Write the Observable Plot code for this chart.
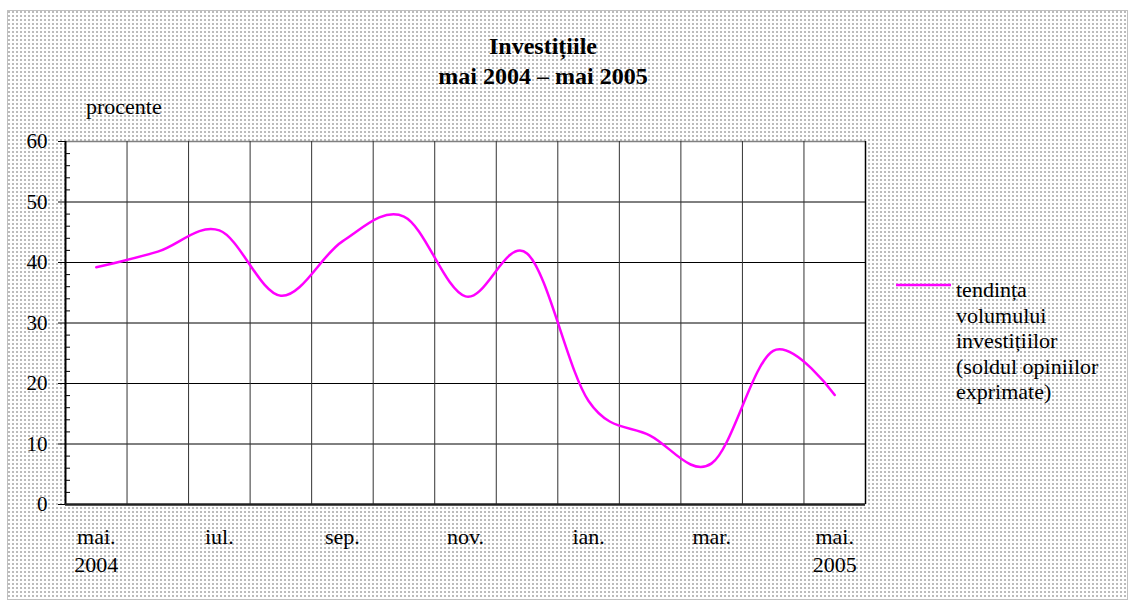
<!DOCTYPE html>
<html><head><meta charset="utf-8">
<script src="https://cdn.jsdelivr.net/npm/d3@7"></script>
<script src="https://cdn.jsdelivr.net/npm/@observablehq/plot@0.6"></script>
<style>
body{margin:0;background:#fff;}
#wrap{position:relative;width:1130px;height:600px;overflow:hidden;font-family:"Liberation Serif","Times New Roman",serif;color:#000;}
#bg{position:absolute;left:7px;top:10px;width:1119px;height:588px;border:1px solid #c0c0c0;background-color:#fff;
 background-image:url("data:image/svg+xml;utf8,<svg xmlns='http://www.w3.org/2000/svg' width='4' height='4'><rect x='0' y='0' width='2' height='2' fill='%23bcbcbc'/></svg>");}
#chart{position:absolute;left:0;top:0;}
.t{position:absolute;white-space:nowrap;}
#title{left:343px;width:400px;top:31px;text-align:center;font-weight:bold;font-size:24px;line-height:30px;}
#unit{left:86px;top:95px;font-size:22px;line-height:24px;}
#legtext{left:956px;top:277px;font-size:22px;line-height:25.5px;}
#legline{position:absolute;left:896px;top:280px;}
</style>
</head><body>
<div id="wrap">
  <div id="bg"></div>
  <div id="chart"></div>
  <div class="t" id="title">Investițiile<br>mai 2004 – mai 2005</div>
  <div class="t" id="unit">procente</div>
  <svg id="legline" width="56" height="10"><line x1="0" y1="5" x2="55" y2="5" stroke="#ff00ff" stroke-width="2.5"/></svg>
  <div class="t" id="legtext">tendința<br>volumului<br>investițiilor<br>(soldul opiniilor<br>exprimate)</div>
</div>
<script>
const months = ["mai.","iun.","iul.","aug.","sep.","oct.","nov.","dec.","ian.","feb.","mar.","apr.","mai."];
const years = ["2004","","","","","","","","","","","","2005"];
const values = [39.2, 41.8, 45.3, 34.5, 43.5, 47.6, 34.4, 41.5, 17.1, 11.4, 6.8, 25.4, 18.1];
const yTicks = [0,10,20,30,40,50,60];
const yMinor = [2,4,6,8,12,14,16,18,22,24,26,28,32,34,36,38,42,44,46,48,52,54,56,58];
const labelEvery = 2;

const idx = months.map((_, i) => i);
const xTicks = idx.filter(i => i % labelEvery === 0);
const gridX = idx.slice(1).map(i => i - 0.5);
const data = values.map((v, i) => ({i, v}));

const chart = Plot.plot({
  width: 1130, height: 600,
  marginLeft: 65, marginRight: 265, marginTop: 141, marginBottom: 96,
  style: {background: "transparent", fontFamily: "Liberation Serif, Times New Roman, serif", fontSize: "22px", color: "#000", overflow: "visible"},
  x: {domain: [-0.5, months.length - 0.5], axis: null},
  y: {domain: [0, 60], axis: null},
  marks: [
    Plot.frame({fill: "white", stroke: null}),
    Plot.ruleY(yTicks.filter(d => d > 0 && d < 60), {stroke: "#000", strokeWidth: 1}),
    Plot.ruleY([60], {stroke: "#808080", strokeWidth: 1.5}),
    Plot.ruleX(gridX, {stroke: "#333", strokeWidth: 1}),
    Plot.ruleX([months.length - 0.5], {stroke: "#000", strokeWidth: 1.5}),
    Plot.line(data, {x: "i", y: "v", curve: "cardinal", stroke: "#ff00ff", strokeWidth: 2.5}),
    Plot.axisY({ticks: yTicks, tickSize: 7, tickPadding: 11, tickFormat: d => String(d), label: null, fontSize: 21, stroke: "#000"}),
    Plot.axisY({ticks: yMinor, tickSize: -5, tickFormat: () => "", label: null, stroke: "#000"}),
    Plot.ruleX([-0.5], {stroke: "#000", strokeWidth: 2}),
    Plot.ruleY([0], {stroke: "#222", strokeWidth: 2.5}),
    Plot.axisX({ticks: xTicks, tickSize: 0, tickPadding: 20, label: null, fontSize: 22, lineHeight: 1.27,
      tickFormat: i => years[i] ? months[i] + "\n" + years[i] : months[i]})
  ]
});
document.getElementById("chart").appendChild(chart);
</script>
</body></html>
